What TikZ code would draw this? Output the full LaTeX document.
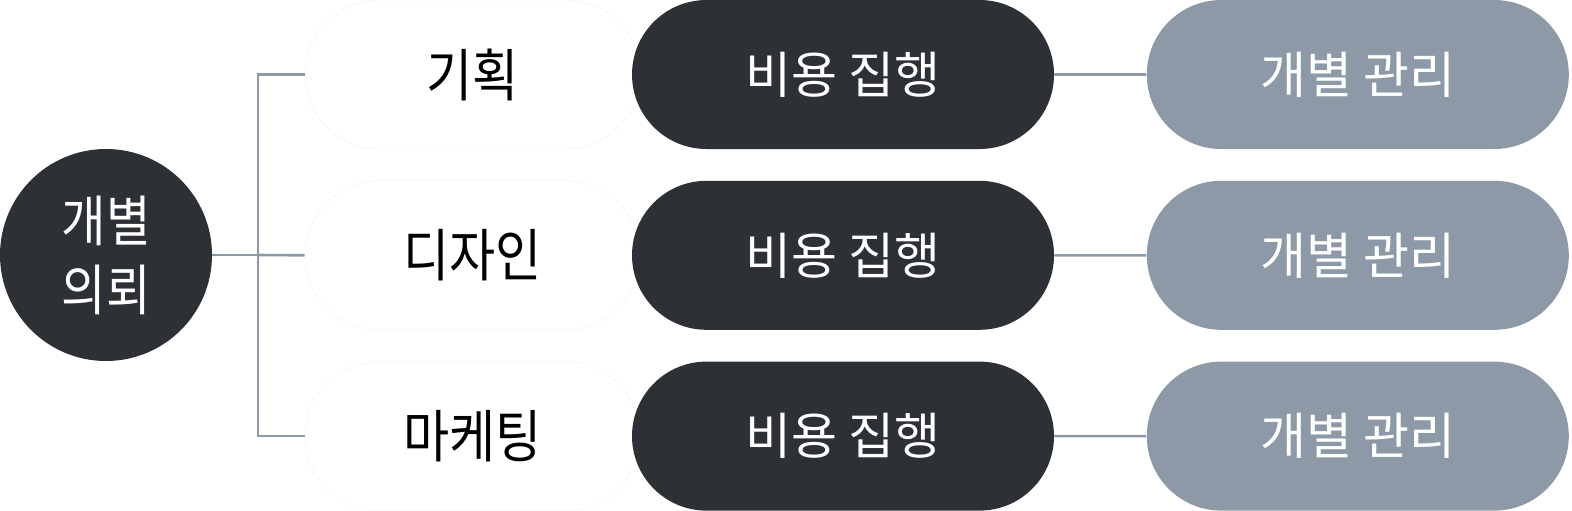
\documentclass[tikz,border=0pt]{standalone}
\usepackage{fontspec}
\setmainfont{Noto Sans CJK KR}[FakeStretch=0.88]
\newfontfamily\pillfont{Noto Sans CJK KR}
\usetikzlibrary{shapes.misc,positioning}

\definecolor{inkdark}{HTML}{2D3035}
\definecolor{slate}{HTML}{8D99A6}

\begin{document}
\begin{tikzpicture}[x=0.5pt,y=-0.5pt,
    pill/.style={rounded rectangle,minimum height=74.5pt,inner sep=0pt},
    request/.style={circle,fill=inkdark,text=white,minimum size=106pt,inner sep=0pt,
        align=center,font=\fontsize{27.5}{34.5}\selectfont},
    team/.style={pill,minimum width=167.5pt,fill=white,draw=black!3,
        font=\fontsize{28.5}{34}\selectfont},
    cost/.style={pill,minimum width=211pt,fill=inkdark,text=white,
        font=\pillfont\fontsize{25}{30}\selectfont},
    manage/.style={pill,minimum width=211pt,fill=slate,text=white,
        font=\pillfont\fontsize{25}{30}\selectfont},
    link/.style={draw=slate,line width=1.3pt}]
  \useasboundingbox (0,0) rectangle (1572,510);

  % left request
  \node[request] (req) at (106,255) {개별\\의뢰};

  % teams
  \node[team] (plan) at (472.5,74.5) {기획};
  \node[team] (design) [below=15.5pt of plan] {디자인};
  \node[team] (market) [below=15.5pt of design] {마케팅};

  % cost and management
  \node[cost] (cost1) at (843,74.5) {비용 집행};
  \node[cost] (cost2) [below=15.5pt of cost1] {비용 집행};
  \node[cost] (cost3) [below=15.5pt of cost2] {비용 집행};
  \node[manage] (mng1) [right=46pt of cost1] {개별 관리};
  \node[manage] (mng2) [right=46pt of cost2] {개별 관리};
  \node[manage] (mng3) [right=46pt of cost3] {개별 관리};

  \coordinate (hub) at (258,255);
  \draw[link] (req) -- (hub);
  \draw[link] (plan.west) -| (hub) |- (market.west);
  \draw[link] (hub) -- (design.west);
  \draw[link] (cost1) -- (mng1);
  \draw[link] (cost2) -- (mng2);
  \draw[link] (cost3) -- (mng3);
\end{tikzpicture}
\end{document}
